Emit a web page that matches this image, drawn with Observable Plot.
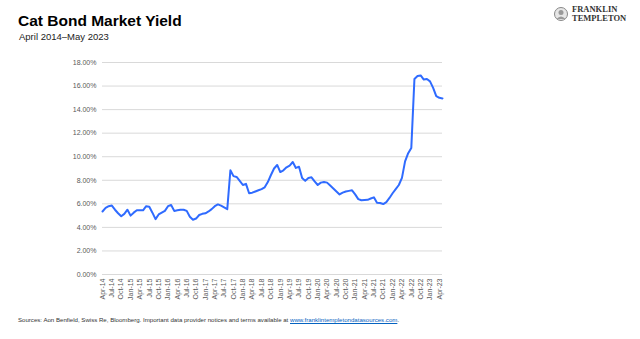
<!DOCTYPE html>
<html><head><meta charset="utf-8">
<script src="https://cdn.jsdelivr.net/npm/d3@7"></script>
<script src="https://cdn.jsdelivr.net/npm/@observablehq/plot@0.6"></script>
<style>
body{margin:0;background:#fff;font-family:"Liberation Sans",Arial,sans-serif;}
#wrap{position:relative;width:640px;height:339px;overflow:hidden;background:#fff;}
#chart{position:absolute;left:0;top:0;}
#title{position:absolute;left:18px;top:12px;font-size:15.5px;font-weight:bold;color:#000;}
#subtitle{position:absolute;left:19px;top:31px;font-size:9.5px;color:#222;}
#logo{position:absolute;left:553px;top:5px;}
#logo .txt{position:absolute;left:19px;top:0;font-family:"Liberation Serif","DejaVu Serif",serif;font-weight:bold;font-size:8.5px;line-height:8.5px;color:#333;white-space:nowrap;}
#footer{position:absolute;left:18px;top:316px;font-size:6.1px;color:#333;white-space:nowrap;}
#footer a{color:#0563c1;text-decoration:underline;}
</style>
</head><body>
<div id="wrap">
  <div id="chart"></div>
  <div id="title">Cat Bond Market Yield</div>
  <div id="subtitle">April 2014–May 2023</div>
  <div id="logo">
    <svg width="16" height="18"><circle cx="8" cy="9" r="6.5" fill="#e6e6e6" stroke="#888" stroke-width="1"/><circle cx="8" cy="7.5" r="2.5" fill="#999"/><path d="M3.5 14 Q8 9 12.5 14" fill="#999"/></svg>
    <div class="txt">FRANKLIN<br>TEMPLETON</div>
  </div>
  <div id="footer">Sources: Aon Benfield, Swiss Re, Bloomberg. Important data provider notices and terms available at <a>www.franklintempletondatasources.com</a>.</div>
</div>
<script>
// Monthly cat bond market yield (%), April 2014 – May 2023
const yields = [
  5.35,5.65,5.8,5.85,5.5,5.2,4.95,5.15,5.5,5.0,
  5.25,5.45,5.45,5.45,5.8,5.75,5.25,4.7,5.1,5.25,
  5.4,5.8,5.9,5.4,5.45,5.5,5.5,5.4,4.9,4.65,
  4.75,5.05,5.15,5.2,5.35,5.55,5.8,5.95,5.85,5.7,
  5.55,8.85,8.35,8.28,7.95,7.6,7.7,6.9,6.95,7.05,
  7.15,7.25,7.4,7.85,8.45,9.0,9.3,8.7,8.85,9.1,
  9.25,9.55,9.05,9.15,8.2,7.95,8.2,8.25,7.9,7.6,
  7.8,7.85,7.8,7.55,7.3,7.05,6.8,6.95,7.05,7.1,
  7.15,6.8,6.4,6.3,6.32,6.34,6.45,6.55,6.1,6.07,
  5.98,6.15,6.5,6.9,7.25,7.6,8.2,9.6,10.3,10.75,
  16.6,16.85,16.9,16.55,16.6,16.4,15.85,15.15,15.0,14.95
];
// Quarterly category labels (every third month, starting Apr-14)
const quarterLabels = [
  "Apr-14","Jul-14","Oct-14","Jan-15","Apr-15","Jul-15","Oct-15","Jan-16","Apr-16","Jul-16",
  "Oct-16","Jan-17","Apr-17","Jul-17","Oct-17","Jan-18","Apr-18","Jul-18","Oct-18","Jan-19",
  "Apr-19","Jul-19","Oct-19","Jan-20","Apr-20","Jul-20","Oct-20","Jan-21","Apr-21","Jul-21",
  "Oct-21","Jan-22","Apr-22","Jul-22","Oct-22","Jan-23","Apr-23"
];
const yTicks = [0,2,4,6,8,10,12,14,16,18];

const data = yields.map((v,i) => ({i, v}));
const xTicks = quarterLabels.map((_,k) => k*3);

const chart = Plot.plot({
  width: 640, height: 339,
  marginTop: 62, marginBottom: 65, marginLeft: 102, marginRight: 198,
  style: {fontFamily: "'Liberation Sans', Arial, sans-serif", background: "transparent", overflow: "visible"},
  x: {domain: [0, yields.length - 1], axis: null, label: null},
  y: {domain: [0, 18], axis: null, label: null},
  marks: [
    Plot.gridY(yTicks, {stroke: "#d9d9d9", strokeOpacity: 1, strokeWidth: 1}),
    Plot.axisY(yTicks, {label: null, tickSize: 0, tickPadding: 6, fontSize: 7, color: "#595959", tickFormat: d => d.toFixed(2) + "%"}),
    Plot.axisX(xTicks, {label: null, tickSize: 0, tickPadding: 4, tickRotate: -90, fontSize: 7, color: "#595959", tickFormat: d => quarterLabels[d / 3]}),
    Plot.line(data, {x: "i", y: "v", stroke: "#2f6bff", strokeWidth: 2, strokeLinejoin: "round"})
  ]
});
document.getElementById("chart").appendChild(chart);
</script>
</body></html>
